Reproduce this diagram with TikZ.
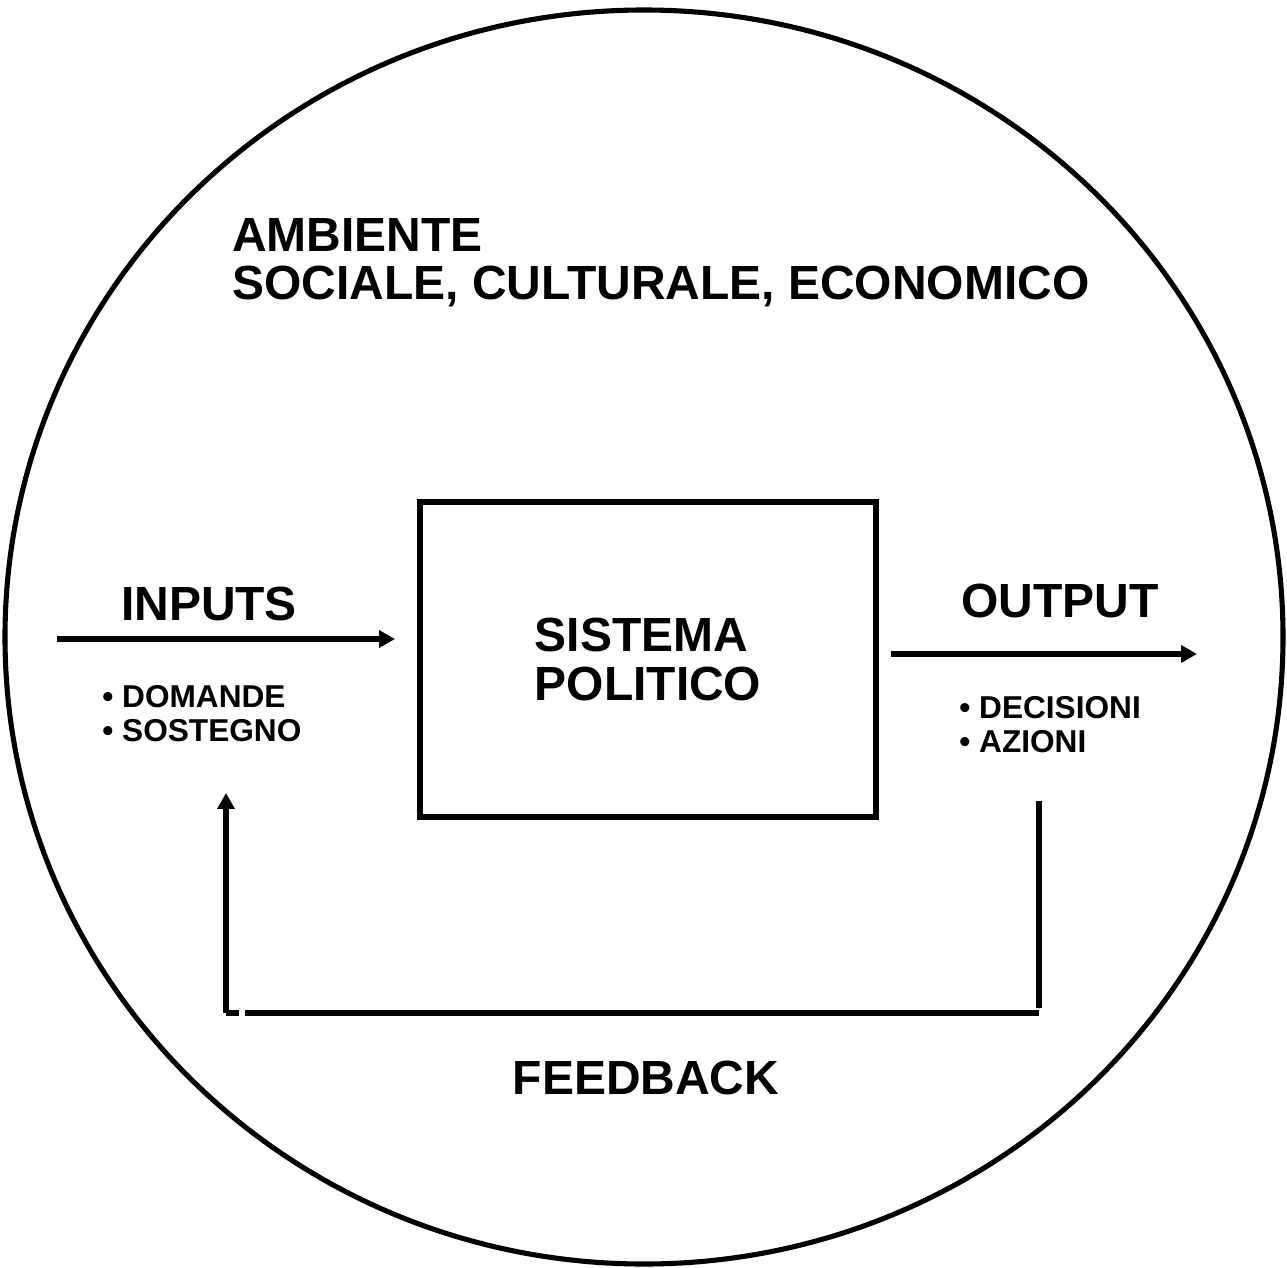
\documentclass[tikz,border=0pt]{standalone}
\usepackage{fontspec}
\setmainfont{Liberation Sans}
\usetikzlibrary{arrows.meta}

\tikzset{
    bigtxt/.style={font=\fontsize{27.3}{27.5}\selectfont\bfseries, inner sep=0pt},
    listtxt/.style={font=\fontsize{18}{19.5}\selectfont\bfseries, inner sep=0pt, align=left, anchor=north west},
    flow/.style={line width=3pt, -{Triangle[length=9pt,width=9.5pt]}},
}

\begin{document}
\begin{tikzpicture}[x=0.02cm,y=-0.02cm]
    \useasboundingbox (0,0) rectangle (1287,1267);
    % ambiente
    \draw[line width=2.9pt] (644,637) ellipse [x radius=639, y radius=627];
    \node[bigtxt, align=left, anchor=north west] (ambiente) at (232,218) {AMBIENTE\\SOCIALE, CULTURALE, ECONOMICO};
    % sistema politico
    \node[draw, line width=3.4pt, minimum width=9.12cm, minimum height=6.3cm, bigtxt, align=left] (sistema) at (648,659.5) {SISTEMA\\POLITICO};
    % inputs
    \coordinate (inS) at (57,639);
    \coordinate (inE) at (395,639);
    \draw[flow] (inS) -- (inE);
    \node[bigtxt, anchor=base] (inputs) at (209,620) {INPUTS};
    \node[listtxt] (domande) at (102,685) {\textbullet\ DOMANDE\\\textbullet\ SOSTEGNO};
    % output
    \coordinate (outS) at (891,654);
    \coordinate (outE) at (1197,654);
    \draw[flow] (outS) -- (outE);
    \node[bigtxt, anchor=base] (output) at (1060,617) {OUTPUT};
    \node[listtxt] (decisioni) at (959,696) {\textbullet\ DECISIONI\\\textbullet\ AZIONI};
    % feedback
    \coordinate (fbA) at (1039,801);
    \coordinate (fbB) at (1039,1008);
    \coordinate (fbC) at (1039,1013);
    \coordinate (fbD) at (245,1013);
    \coordinate (fbE) at (239,1013);
    \coordinate (fbF) at (226,1013);
    \coordinate (fbG) at (226,793);
    \draw[line width=3.2pt] (fbA) -- (fbB);
    \draw[line width=3pt] (fbC) -- (fbD);
    \draw[line width=3pt] (fbE) -- (fbF);
    \draw[flow] (fbF) -- (fbG);
    \node[bigtxt, anchor=base] (feedback) at (646,1094) {FEEDBACK};
\end{tikzpicture}
\end{document}
